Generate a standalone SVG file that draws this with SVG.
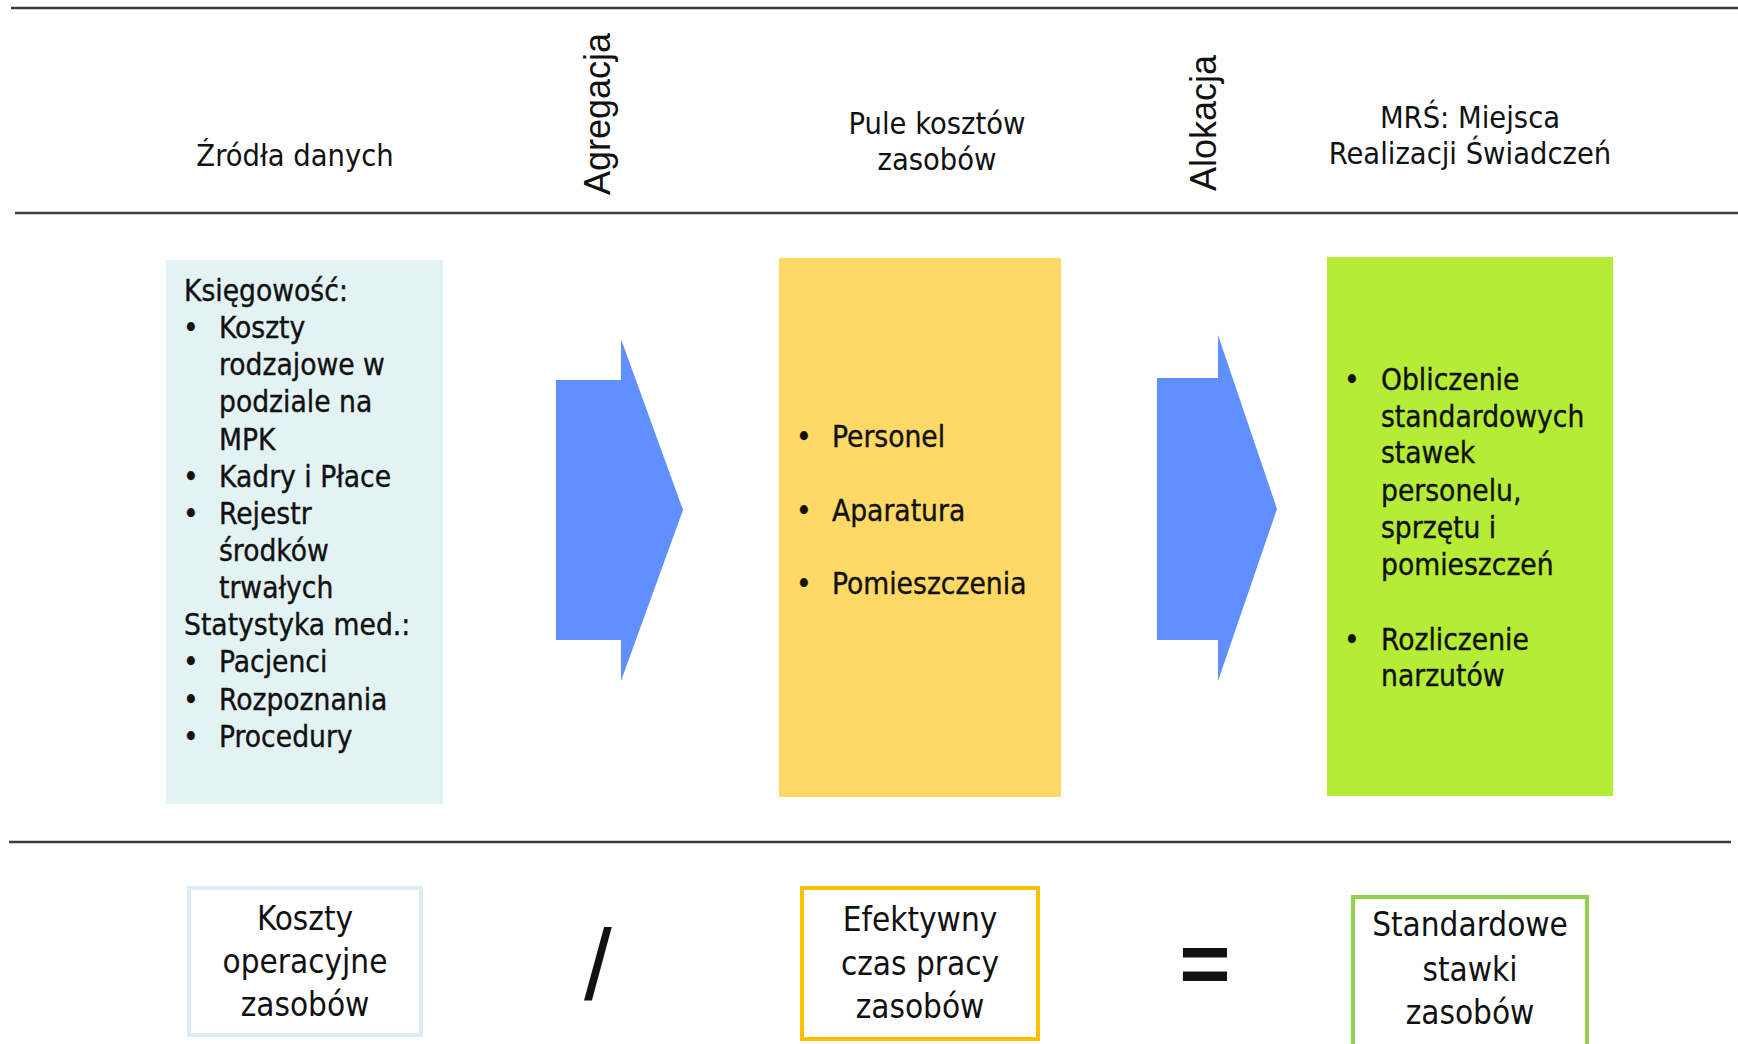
<svg xmlns="http://www.w3.org/2000/svg" width="1738" height="1044" viewBox="0 0 1738 1044">
<style>
.hdr{font-family:"DejaVu Sans Condensed","DejaVu Sans",sans-serif;font-stretch:condensed;font-size:30.5px;fill:#111;text-anchor:middle}
.rot{font-family:"Liberation Sans",Arial,sans-serif;font-size:36px;fill:#111;text-anchor:middle}
.body{font-family:"DejaVu Sans Condensed","DejaVu Sans",sans-serif;font-stretch:condensed;font-size:29.6px;fill:#111;stroke:#111;stroke-width:0.35}
.bot{font-family:"Liberation Sans Narrow","DejaVu Sans Condensed",sans-serif;font-stretch:condensed;font-size:33px;fill:#111;text-anchor:middle}
.rule{stroke:#3c3c3c;stroke-width:2.5}
.arrow{fill:#6090FF}
</style>
<g id="rules">
<line class="rule" x1="11" y1="8" x2="1738" y2="8"/>
<line class="rule" x1="15" y1="213" x2="1738" y2="213"/>
<line class="rule" x1="9" y1="842" x2="1731" y2="842"/>
</g>
<g id="header-zrodla"><text class="hdr" x="295" y="166">Źródła danych</text></g>
<g id="header-agregacja"><text class="rot" x="610" y="114" transform="rotate(-90 610 114)">Agregacja</text></g>
<g id="header-pule"><text class="hdr" x="937" y="134">Pule kosztów</text><text class="hdr" x="937" y="170">zasobów</text></g>
<g id="header-alokacja"><text class="rot" x="1216" y="123" transform="rotate(-90 1216 123)">Alokacja</text></g>
<g id="header-mrs"><text class="hdr" x="1470" y="128">MRŚ: Miejsca</text><text class="hdr" x="1470" y="164">Realizacji Świadczeń</text></g>

<g id="node-zrodla">
<rect x="166" y="260" width="277" height="544" fill="#E3F2F3"/>
<text class="body" x="184" y="301">Księgowość:</text>
<text class="body" x="183" y="338">•</text><text class="body" x="219" y="338">Koszty</text>
<text class="body" x="219" y="375">rodzajowe w</text>
<text class="body" x="219" y="412">podziale na</text>
<text class="body" x="219" y="450">MPK</text>
<text class="body" x="183" y="487">•</text><text class="body" x="219" y="487">Kadry i Płace</text>
<text class="body" x="183" y="524">•</text><text class="body" x="219" y="524">Rejestr</text>
<text class="body" x="219" y="561">środków</text>
<text class="body" x="219" y="598">trwałych</text>
<text class="body" x="184" y="635">Statystyka med.:</text>
<text class="body" x="183" y="672">•</text><text class="body" x="219" y="672">Pacjenci</text>
<text class="body" x="183" y="710">•</text><text class="body" x="219" y="710">Rozpoznania</text>
<text class="body" x="183" y="747">•</text><text class="body" x="219" y="747">Procedury</text>
</g>

<g id="node-pule">
<rect x="779" y="258" width="282" height="539" fill="#FFD966"/>
<text class="body" x="796" y="447">•</text><text class="body" x="832" y="447">Personel</text>
<text class="body" x="796" y="521">•</text><text class="body" x="832" y="521">Aparatura</text>
<text class="body" x="796" y="594">•</text><text class="body" x="832" y="594">Pomieszczenia</text>
</g>

<g id="node-mrs">
<rect x="1327" y="257" width="286" height="539" fill="#B5EC35"/>
<text class="body" x="1344" y="390">•</text><text class="body" x="1381" y="390">Obliczenie</text>
<text class="body" x="1381" y="427">standardowych</text>
<text class="body" x="1381" y="463">stawek</text>
<text class="body" x="1381" y="501">personelu,</text>
<text class="body" x="1381" y="538">sprzętu i</text>
<text class="body" x="1381" y="575">pomieszczeń</text>
<text class="body" x="1344" y="650">•</text><text class="body" x="1381" y="650">Rozliczenie</text>
<text class="body" x="1381" y="686">narzutów</text>
</g>

<g id="connectors">
<polygon class="arrow" points="556,380 621,380 621,339 683,510 621,681 621,640 556,640"/>
<polygon class="arrow" points="1157,378 1218,378 1218,335 1277,509 1218,681 1218,640 1157,640"/>
</g>

<g id="node-koszty">
<rect x="189" y="888" width="232" height="147" fill="none" stroke="#DAEEF3" stroke-width="4"/>
<text class="bot" x="305" y="930">Koszty</text>
<text class="bot" x="305" y="973">operacyjne</text>
<text class="bot" x="305" y="1016">zasobów</text>
</g>
<g id="op-div"><text x="598" y="1000" font-family="Liberation Sans,Arial,sans-serif" font-size="100" text-anchor="middle" fill="#111">/</text></g>
<g id="node-efektywny">
<rect x="802" y="888" width="236" height="151" fill="none" stroke="#FFC000" stroke-width="4"/>
<text class="bot" x="920" y="931">Efektywny</text>
<text class="bot" x="920" y="975">czas pracy</text>
<text class="bot" x="920" y="1018">zasobów</text>
</g>
<g id="op-eq"><text x="1205" y="993" font-family="Liberation Sans,Arial,sans-serif" font-weight="bold" font-size="88" text-anchor="middle" fill="#111">=</text></g>
<g id="node-stawki">
<rect x="1353" y="897" width="234" height="150" fill="none" stroke="#92D050" stroke-width="4"/>
<text class="bot" x="1470" y="936">Standardowe</text>
<text class="bot" x="1470" y="981">stawki</text>
<text class="bot" x="1470" y="1024">zasobów</text>
</g>
</svg>
